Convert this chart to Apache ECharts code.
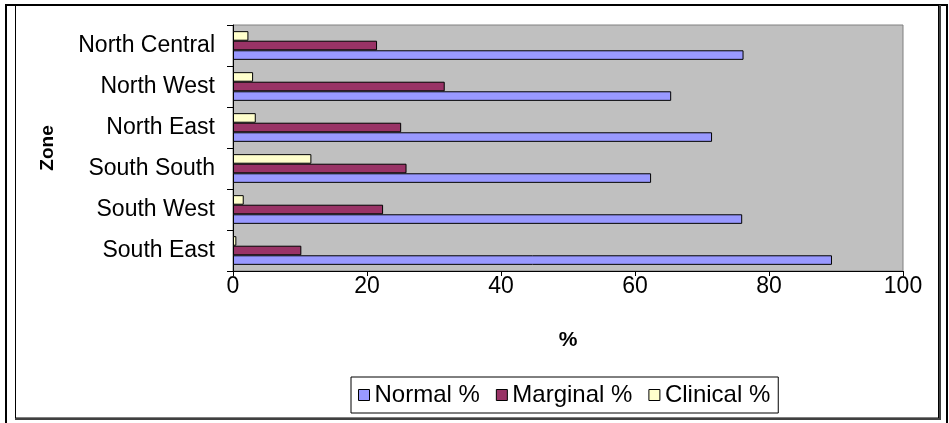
<!DOCTYPE html>
<html>
<head>
<meta charset="utf-8">
<script src="https://cdn.jsdelivr.net/npm/echarts@6/dist/echarts.min.js"></script>
<style>
  html, body { margin: 0; padding: 0; background: #fff; }
  #chart { width: 949px; height: 423px; }
</style>
</head>
<body>
<div id="chart"></div>
<script>
// Zones, listed bottom to top along the category axis
const zones = ['South East', 'South West', 'South South', 'North East', 'North West', 'North Central'];
const normalPct = [89.4, 76.0, 62.4, 71.5, 65.4, 76.2];
const marginalPct = [10.2, 22.4, 25.9, 25.1, 31.6, 21.5];
const clinicalPct = [0.5, 1.6, 11.7, 3.4, 3.0, 2.3];
const legendOrder = ['Normal %', 'Marginal %', 'Clinical %'];
const xTicks = { min: 0, max: 100, interval: 20 };

const FONT = 'Liberation Sans, Arial, sans-serif';
const chart = echarts.init(document.getElementById('chart'), null, { renderer: 'canvas' });

function barSeries(name, data, color) {
  return {
    name: name,
    type: 'bar',
    data: data,
    barGap: '0%',
    barCategoryGap: '30%',
    itemStyle: { color: color, borderColor: '#000', borderWidth: 1 },
    emphasis: { disabled: true }
  };
}

chart.setOption({
  animation: false,
  backgroundColor: '#fff',
  textStyle: { fontFamily: FONT },
  grid: {
    left: 233, right: 46, top: 25, bottom: 152,
    show: true, backgroundColor: '#C0C0C0', borderColor: '#808080', borderWidth: 1
  },
  xAxis: {
    type: 'value',
    min: xTicks.min, max: xTicks.max, interval: xTicks.interval,
    name: '%', nameLocation: 'middle', nameGap: 59,
    nameTextStyle: { fontSize: 21, fontWeight: 'bold', color: '#000', fontFamily: FONT },
    axisLine: { show: true, lineStyle: { color: '#000', width: 1 } },
    axisTick: { show: true, length: 5, lineStyle: { color: '#000' } },
    axisLabel: { fontSize: 23, color: '#000', margin: 4, fontFamily: FONT },
    splitLine: { show: false }
  },
  yAxis: {
    type: 'category',
    data: zones,
    name: 'Zone', nameLocation: 'middle', nameGap: 176, nameRotate: 90,
    nameTextStyle: { fontSize: 19, fontWeight: 'bold', color: '#000', fontFamily: FONT },
    axisLine: { show: true, lineStyle: { color: '#000', width: 1 } },
    axisTick: { show: true, length: 6, lineStyle: { color: '#000' } },
    axisLabel: { fontSize: 23, color: '#000', margin: 18, fontFamily: FONT },
    splitLine: { show: false }
  },
  legend: {
    data: legendOrder,
    left: 351, top: 377,
    orient: 'horizontal',
    padding: [6, 8, 6, 7],
    itemWidth: 11, itemHeight: 11, itemGap: 16,
    icon: 'rect',
    itemStyle: { borderColor: '#000', borderWidth: 1 },
    borderColor: '#000', borderWidth: 1,
    textStyle: { fontSize: 24, color: '#000', fontFamily: FONT },
    selectedMode: false
  },
  // drawn top-to-bottom within each band: Clinical, Marginal, Normal
  series: [
    barSeries('Clinical %', clinicalPct, '#FFFFCC'),
    barSeries('Marginal %', marginalPct, '#993366'),
    barSeries('Normal %', normalPct, '#9999FF')
  ],
  graphic: [
    // outer frame
    { type: 'rect', silent: true, shape: { x: 6, y: 5, width: 941, height: 420 },
      style: { fill: 'none', stroke: '#000', lineWidth: 2 } },
    // inner chart-area frame
    { type: 'polyline', silent: true, shape: { points: [[15.5, 5], [15.5, 418], [938.5, 418], [938.5, 5]] },
      style: { fill: 'none', stroke: '#000', lineWidth: 1 } },
    { type: 'line', silent: true, shape: { x1: 15, y1: 419, x2: 940, y2: 419 },
      style: { stroke: '#404040', lineWidth: 2 } },
    { type: 'line', silent: true, shape: { x1: 940, y1: 5, x2: 940, y2: 420 },
      style: { stroke: '#404040', lineWidth: 2 } }
  ]
});
</script>
</body>
</html>
